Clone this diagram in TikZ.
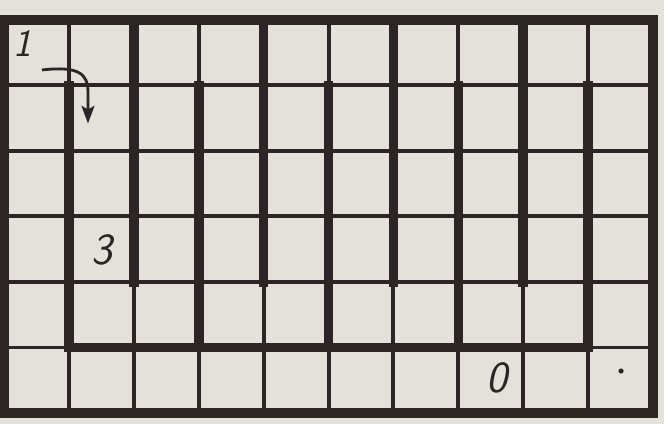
\documentclass[tikz,border=0pt]{standalone}
\usetikzlibrary{arrows.meta}
\definecolor{ink}{HTML}{2D2525}
\definecolor{paper}{HTML}{E4E1DA}

\begin{document}
\begin{tikzpicture}[
    x=1.947cm, y=-1.965cm,
    thinline/.style={ink, line width=3.4pt},
    wall/.style={ink, line width=8.2pt, line cap=rect},
    digit/.style={text=ink, inner sep=0pt, font=\sffamily\slshape\fontsize{38}{38}\selectfont},
    arr/.style={-{Stealth[length=15pt, width=11pt, inset=3pt]}, ink, line width=2.4pt}
  ]
  % --- Paper ---
  \fill[paper] (-0.0616,-0.305) rectangle (10.169,6.168);
  \useasboundingbox (-0.0616,-0.305) rectangle (10.169,6.168);

  % --- Thin grid ---
  \foreach \c in {1,...,9} \draw[thinline] (\c,0) -- (\c,6);
  \foreach \r in {1,...,5} \draw[thinline] (0,\r) -- (10,\r);

  % --- Walls ---
  \foreach \c in {2,4,6,8} \draw[wall] (\c,0) -- (\c,4);
  \foreach \c in {1,3,5,7,9} \draw[wall] (\c,1) -- (\c,5);
  \draw[wall] (1,5) -- (9,5);
  \draw[ink, line width=8.5pt] (0,0) rectangle (10,6);

  % --- Digits ---
  \node[digit, font=\sffamily\slshape\fontsize{33}{33}\selectfont] (one) at (0.28,0.36) {1};
  \node[digit] (three) at (1.51,3.51) {3};
  \node[digit] (zero) at (7.60,5.47) {0};
  \fill[ink] (9.507,5.359) circle (2.2pt);

  % --- Start arrow ---
  \coordinate (arrstart) at (0.585,0.763);
  \coordinate (arrend) at (1.294,1.58);
  \draw[arr] (arrstart) .. controls (1.15,0.70) and (1.294,0.82) .. (1.294,1.10) -- (arrend);
\end{tikzpicture}
\end{document}
